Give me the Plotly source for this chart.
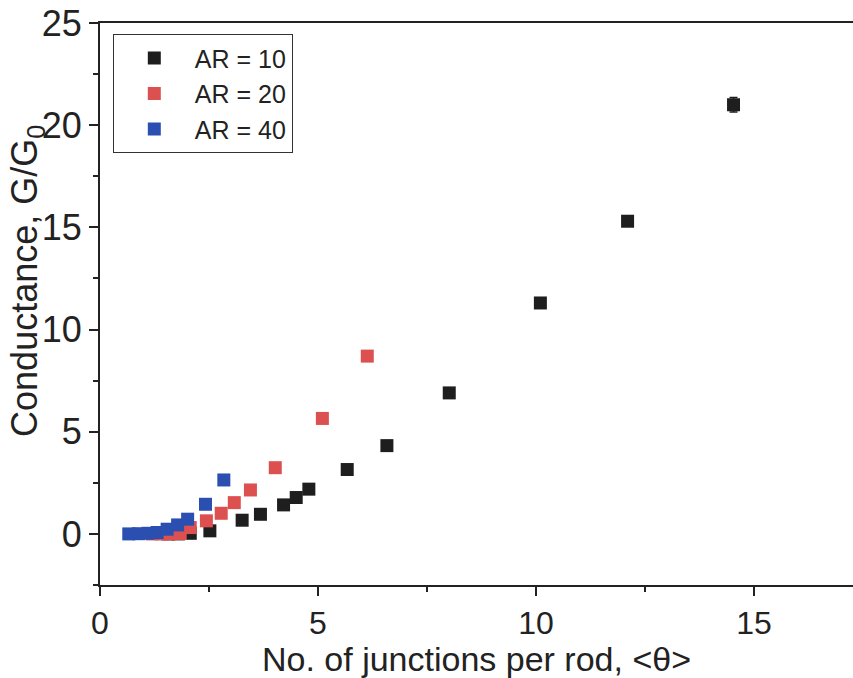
import plotly.graph_objects as go

# Data
ar10_x = [1.55, 1.8, 2.07, 2.52, 3.26, 3.68, 4.21, 4.50, 4.79, 5.67, 6.58, 8.01, 10.1, 12.1, 14.53]
ar10_y = [0.0, 0.0, 0.03, 0.15, 0.67, 0.96, 1.42, 1.78, 2.19, 3.15, 4.32, 6.9, 11.3, 15.3, 21.0]
ar10_err = [0, 0, 0, 0, 0, 0, 0, 0, 0, 0, 0, 0, 0, 0, 0.35]

ar20_x = [1.2, 1.4, 1.6, 1.84, 2.07, 2.44, 2.78, 3.08, 3.45, 4.02, 5.1, 6.13]
ar20_y = [0.0, 0.0, 0.0, 0.02, 0.31, 0.64, 1.01, 1.53, 2.15, 3.24, 5.65, 8.7]

ar40_x = [0.66, 0.88, 1.1, 1.31, 1.54, 1.78, 2.01, 2.42, 2.84]
ar40_y = [0.0, 0.01, 0.03, 0.07, 0.23, 0.44, 0.72, 1.45, 2.64]

names = ["AR = 10", "AR = 20", "AR = 40"]
colors = ["#1e1e1e", "#dc5050", "#2a4fb0"]
x_title = "No. of junctions per rod, <θ>"
y_title = "Conductance, G/G<sub>0</sub>"

fig = go.Figure()
fig.add_trace(go.Scatter(
    x=ar10_x, y=ar10_y, mode="markers", name=names[0],
    marker=dict(symbol="square", size=13, color=colors[0], line=dict(width=0)),
    error_y=dict(type="data", array=ar10_err, visible=True, color=colors[0], thickness=1.5, width=4),
))
fig.add_trace(go.Scatter(
    x=ar20_x, y=ar20_y, mode="markers", name=names[1],
    marker=dict(symbol="square", size=13, color=colors[1], line=dict(width=0)),
))
fig.add_trace(go.Scatter(
    x=ar40_x, y=ar40_y, mode="markers", name=names[2],
    marker=dict(symbol="square", size=13, color=colors[2], line=dict(width=0)),
))

font_family = "Liberation Sans, Arial, sans-serif"
ink = "#222222"

fig.update_layout(
    width=853, height=678,
    margin=dict(l=100, r=0, t=23, b=93),
    paper_bgcolor="white", plot_bgcolor="white",
    font=dict(family=font_family, color=ink),
    showlegend=True,
    legend=dict(
        x=0.017, y=0.98, xanchor="left", yanchor="top",
        bordercolor="#333333", borderwidth=1, bgcolor="white",
        font=dict(size=25, family=font_family, color=ink),
        itemwidth=71,
    ),
    xaxis=dict(
        range=[0, 17.27], showgrid=False, zeroline=False,
        showline=True, linecolor=ink, linewidth=2, mirror=True,
        ticks="outside", ticklen=9, tickwidth=2, tickcolor=ink,
        tick0=0, dtick=5,
        minor=dict(ticks="outside", ticklen=5, tickwidth=2, dtick=2.5, tickcolor=ink),
        tickfont=dict(size=32, family=font_family, color=ink),
        title=dict(text=x_title, font=dict(size=34, family=font_family, color=ink), standoff=4),
    ),
    yaxis=dict(
        range=[-2.5, 25], showgrid=False, zeroline=False,
        showline=True, linecolor=ink, linewidth=2, mirror=False,
        ticks="outside", ticklen=9, tickwidth=2, tickcolor=ink,
        tick0=0, dtick=5,
        minor=dict(ticks="outside", ticklen=5, tickwidth=2, dtick=2.5, tickcolor=ink),
        tickfont=dict(size=36, family=font_family, color=ink),
    ),
    annotations=[dict(
        text=y_title, textangle=-90, showarrow=False,
        xref="paper", yref="paper", x=-0.097, y=0.541,
        xanchor="center", yanchor="middle",
        font=dict(size=36, family=font_family, color=ink),
    )],
)

fig.write_html("out.html")
